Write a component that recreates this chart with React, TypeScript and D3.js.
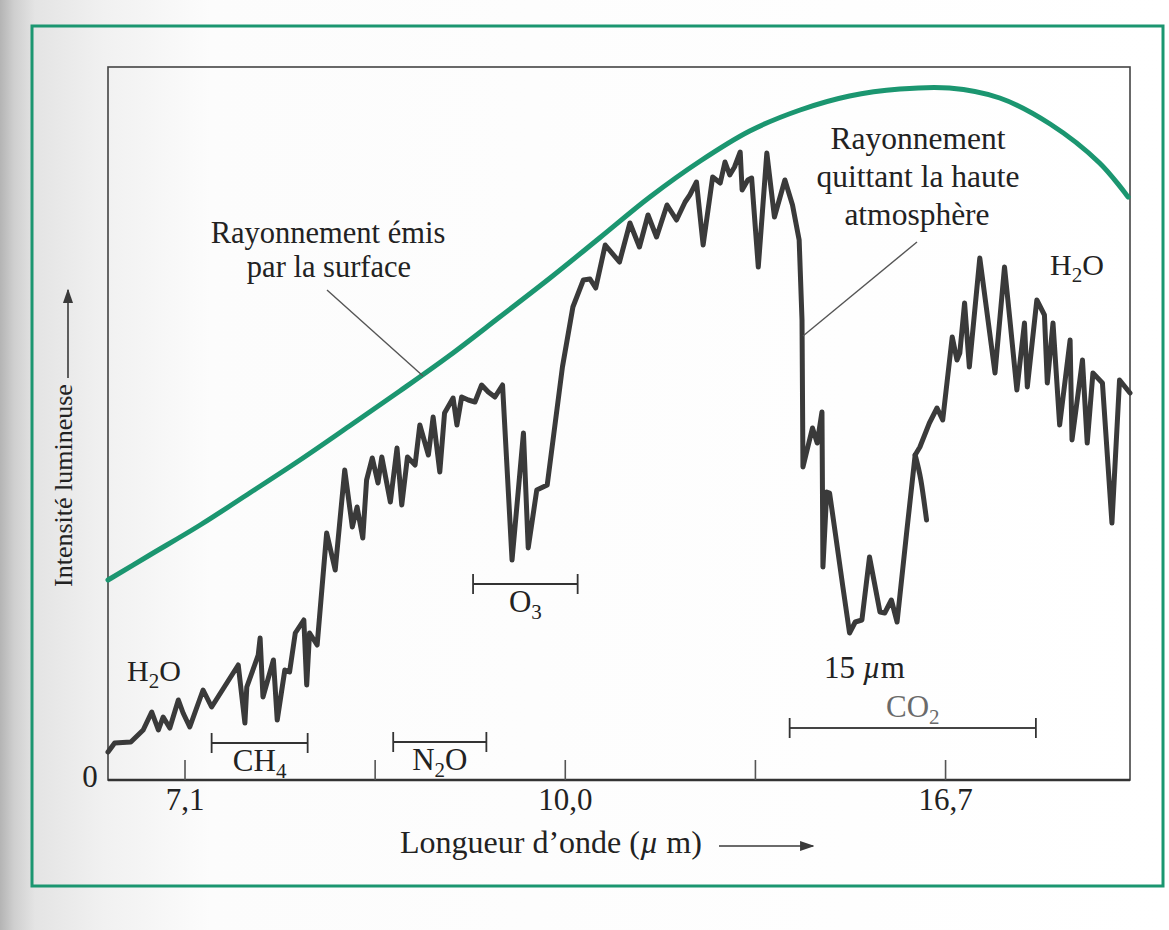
import React from "react";
import * as d3 from "d3";

const W = 1169;
const H = 930;

// Outgoing spectrum at the top of the atmosphere: wavenumber (cm⁻¹) and intensity (arb. units)
const spectrumWavenumber = [
  1481, 1474, 1457, 1444, 1435, 1428, 1423, 1416, 1407, 1402,
  1395, 1381, 1372, 1344, 1337, 1335, 1323, 1321, 1318, 1307,
  1303, 1295, 1290, 1284, 1275, 1272, 1269, 1261, 1251, 1242,
  1232, 1224, 1219, 1213, 1209, 1203, 1197, 1193, 1184, 1177,
  1172, 1166, 1158, 1153, 1144, 1139, 1132, 1127, 1118, 1114,
  1109, 1102, 1095, 1088, 1081, 1074, 1066, 1056, 1044, 1039,
  1030, 1019, 1003, 992, 981, 974, 968, 958, 943, 932,
  922, 913, 904, 893, 883, 874, 869, 862, 855, 845,
  837, 832, 827, 822, 816, 814, 808, 804, 797, 788,
  780, 769, 761, 754, 751, 750, 740, 735, 730, 729,
  725, 722, 716, 708, 701, 695, 688, 680, 669, 664,
  657, 651, 641, 632, 627, 617, 609, 603, 593, 588,
  585, 580, 575, 564, 548, 538, 532, 525, 517, 514,
  504, 496, 493, 487, 480, 469, 467, 456, 451, 445,
  435, 425, 417, 406,
];
const spectrumIntensity = [
  2.8, 3.7, 3.8, 5.0, 6.8, 5.0, 6.3, 5.2, 8.0, 6.7,
  5.3, 9.0, 7.3, 11.5, 5.7, 9.3, 12.5, 14.2, 8.3, 12.0,
  6.0, 11.0, 10.8, 14.7, 16.0, 9.5, 14.7, 13.5, 24.7, 21.0,
  31.0, 25.3, 27.3, 24.2, 30.0, 32.2, 29.7, 32.3, 27.8, 33.2,
  27.5, 32.3, 31.5, 35.5, 32.5, 36.3, 30.8, 36.7, 38.2, 35.5,
  38.3, 38.0, 37.8, 39.5, 38.8, 38.3, 39.5, 22.0, 34.7, 23.2,
  29.0, 29.5, 41.3, 47.3, 50.0, 50.1, 49.2, 53.5, 51.8, 55.7,
  53.3, 56.5, 54.3, 57.5, 56.0, 57.8, 58.5, 59.8, 53.5, 60.3,
  59.7, 61.8, 60.5, 61.3, 62.8, 59.0, 60.0, 60.2, 51.3, 62.7,
  56.3, 60.0, 57.5, 54.0, 46.0, 31.3, 35.2, 33.7, 36.8, 21.3,
  28.8, 28.7, 24.7, 19.3, 14.7, 15.8, 16.0, 22.3, 16.8, 16.7,
  18.0, 15.8, 24.7, 32.5, 33.3, 35.7, 37.2, 36.0, 44.3, 42.0,
  42.7, 47.7, 41.3, 52.2, 40.7, 51.3, 45.7, 39.0, 45.7, 39.3,
  48.0, 46.5, 39.7, 45.7, 35.5, 44.0, 34.0, 42.0, 33.7, 40.7,
  39.7, 25.7, 40.0, 38.7,
];

// Short stray stroke branching off the recovery of the CO₂ band
const spurWavenumber = [632, 626, 620];
const spurIntensity = [32.5, 30.0, 26.0];

// Radiation emitted by the surface (smooth envelope)
const surfaceWavenumber = [
  1481, 1437, 1384, 1332, 1279, 1227, 1174, 1121, 1069, 1016, 964,
  911, 858, 806, 753, 701, 648, 596, 543, 490, 438, 408,
];
const surfaceIntensity = [
  20.0, 22.5, 25.5, 28.7, 32.0, 35.4, 38.9, 42.5, 46.3, 50.2, 54.2,
  58.3, 61.9, 64.9, 67.0, 68.4, 69.1, 69.2, 68.2, 65.6, 61.7, 58.3,
];

// Axis ticks (wavenumber) and their wavelength labels (µm)
const tickWavenumbers = [1400, 1200, 1000, 800, 600];
const tickLabels = ["7,1", "", "10,0", "", "16,7"];

// Absorption bands: gas, start and end wavenumber
const bandGas = ["CH4", "N2O", "O3", "CO2"];
const bandFrom = [1372, 1181, 1097, 764];
const bandTo = [1271, 1083, 987, 505];

const FONT = "'Liberation Serif', 'Times New Roman', serif";
const GREEN = "#1b9670";
const INK = "#3a3a3a";

const plot = { left: 108, right: 1130, top: 67, bottom: 780 };

// Vertical placement of each band bracket and whether its label sits below or above
const bandLayout: Record<string, { y: number; below: boolean }> = {
  CH4: { y: 743, below: true },
  N2O: { y: 742, below: true },
  O3: { y: 584, below: true },
  CO2: { y: 728, below: false },
};

function Formula({ name }: { name: string }) {
  // Chemical formula with its digits set as subscripts
  const parts = name.split(/(\d)/).filter((p) => p.length);
  let shifted = false;
  return (
    <>
      {parts.map((p, i) => {
        const isDigit = /\d/.test(p);
        let dy = 0;
        if (isDigit && !shifted) {
          dy = 7;
          shifted = true;
        } else if (!isDigit && shifted) {
          dy = -7;
          shifted = false;
        }
        return (
          <tspan key={i} dy={dy} fontSize={isDigit ? 21 : undefined}>
            {p}
          </tspan>
        );
      })}
    </>
  );
}

export default function App() {
  const x = d3.scaleLinear().domain([1481, 406]).range([plot.left, plot.right]);
  const y = d3.scaleLinear().domain([0, 71.3]).range([plot.bottom, plot.top]);

  const spectrum = spectrumWavenumber.map((w, i) => [w, spectrumIntensity[i]] as [number, number]);
  const spur = spurWavenumber.map((w, i) => [w, spurIntensity[i]] as [number, number]);
  const surface = surfaceWavenumber.map((w, i) => [w, surfaceIntensity[i]] as [number, number]);

  const jagged = d3
    .line<[number, number]>()
    .x((d) => x(d[0]))
    .y((d) => y(d[1]))
    .curve(d3.curveLinear);
  const smooth = d3
    .line<[number, number]>()
    .x((d) => x(d[0]))
    .y((d) => y(d[1]))
    .curve(d3.curveCatmullRom.alpha(0.5));
  const spurLine = d3
    .line<[number, number]>()
    .x((d) => x(d[0]))
    .y((d) => y(d[1]))
    .curve(d3.curveNatural);

  return (
    <svg
      width={W}
      height={H}
      viewBox={`0 0 ${W} ${H}`}
      style={{ position: "absolute", left: 0, top: 0, display: "block" }}
      fontFamily={FONT}
    >
      <defs>
        <linearGradient id="paper" x1="0" x2="1" y1="0" y2="0">
          <stop offset="0" stopColor="#b4b4b4" />
          <stop offset="0.012" stopColor="#cfcfcf" />
          <stop offset="0.03" stopColor="#e4e4e4" />
          <stop offset="0.09" stopColor="#f1f1f1" />
          <stop offset="0.18" stopColor="#fcfcfc" />
          <stop offset="1" stopColor="#ffffff" />
        </linearGradient>
        <marker id="arrow" viewBox="0 0 10 10" refX="9" refY="5" markerWidth="9" markerHeight="9" orient="auto">
          <path d="M0,1.5 L10,5 L0,8.5 Z" fill={INK} />
        </marker>
      </defs>

      <rect x={0} y={0} width={W} height={H} fill="url(#paper)" />

      {/* green outer frame */}
      <rect x={32} y={26} width={1131} height={860} fill="none" stroke={GREEN} strokeWidth={3} />

      {/* plot frame */}
      <rect
        x={plot.left}
        y={plot.top}
        width={plot.right - plot.left}
        height={plot.bottom - plot.top}
        fill="none"
        stroke="#444"
        strokeWidth={1.6}
      />
      <line x1={plot.left} x2={plot.right} y1={plot.bottom} y2={plot.bottom} stroke="#333" strokeWidth={2.4} />

      {/* ticks */}
      {tickWavenumbers.map((t, i) => (
        <g key={t}>
          <line x1={x(t)} x2={x(t)} y1={plot.bottom} y2={plot.bottom - 20} stroke="#555" strokeWidth={1.6} />
          {tickLabels[i] && (
            <text x={x(t)} y={810} fontSize={31} textAnchor="middle" fill="#222">
              {tickLabels[i]}
            </text>
          )}
        </g>
      ))}
      <text x={90} y={787} fontSize={31} textAnchor="middle" fill="#222">
        0
      </text>

      {/* axis titles */}
      <text x={400} y={853} fontSize={32} fill="#222">
        Longueur d’onde (<tspan fontStyle="italic">µ</tspan> m)
      </text>
      <line x1={719} x2={813} y1={846} y2={846} stroke={INK} strokeWidth={1.6} markerEnd="url(#arrow)" />

      <g transform="translate(72,587) rotate(-90)">
        <text x={0} y={0} fontSize={26} fill="#222">
          Intensité lumineuse
        </text>
      </g>
      <line x1={68} x2={68} y1={378} y2={290} stroke={INK} strokeWidth={1.6} markerEnd="url(#arrow)" />

      {/* surface emission curve */}
      <path d={smooth(surface) ?? ""} fill="none" stroke={GREEN} strokeWidth={5} strokeLinecap="round" />

      {/* outgoing spectrum */}
      <path
        d={jagged(spectrum) ?? ""}
        fill="none"
        stroke={INK}
        strokeWidth={5}
        strokeLinejoin="round"
        strokeLinecap="round"
      />
      <path d={spurLine(spur) ?? ""} fill="none" stroke={INK} strokeWidth={5} strokeLinecap="round" />

      {/* absorption band brackets */}
      {bandGas.map((g, i) => {
        const lay = bandLayout[g];
        const x0 = x(bandFrom[i]);
        const x1 = x(bandTo[i]);
        const cx = (x0 + x1) / 2;
        const faded = g === "CO2";
        return (
          <g key={g}>
            <line x1={x0} x2={x1} y1={lay.y} y2={lay.y} stroke={faded ? "#444" : "#333"} strokeWidth={2} />
            <line x1={x0} x2={x0} y1={lay.y - 10} y2={lay.y + 10} stroke="#333" strokeWidth={1.8} />
            <line x1={x1} x2={x1} y1={lay.y - 10} y2={lay.y + 10} stroke="#333" strokeWidth={1.8} />
            <text
              x={cx}
              y={lay.below ? lay.y + 28 : lay.y - 11}
              fontSize={31}
              textAnchor="middle"
              fill={faded ? "#6a6a6a" : "#222"}
            >
              <Formula name={g} />
            </text>
          </g>
        );
      })}

      {/* water vapour labels */}
      <text x={127} y={681} fontSize={30} fill="#222">
        <Formula name="H2O" />
      </text>
      <text x={1050} y={275} fontSize={30} fill="#222">
        <Formula name="H2O" />
      </text>

      <text x={824} y={678} fontSize={31} fill="#222">
        15 <tspan fontStyle="italic">µ</tspan>m
      </text>

      {/* annotations */}
      <text x={328} y={243} fontSize={30.5} textAnchor="middle" fill="#222">
        Rayonnement émis
      </text>
      <text x={329} y={277} fontSize={30.5} textAnchor="middle" fill="#222">
        par la surface
      </text>
      <line x1={327} y1={290} x2={423} y2={376} stroke="#555" strokeWidth={1.4} />

      <text x={918} y={149} fontSize={31.5} textAnchor="middle" fill="#222">
        Rayonnement
      </text>
      <text x={918} y={187} fontSize={31.5} textAnchor="middle" fill="#222">
        quittant la haute
      </text>
      <text x={917} y={225} fontSize={31.5} textAnchor="middle" fill="#222">
        atmosphère
      </text>
      <line x1={917} y1={242} x2={803} y2={336} stroke="#555" strokeWidth={1.4} />
    </svg>
  );
}
